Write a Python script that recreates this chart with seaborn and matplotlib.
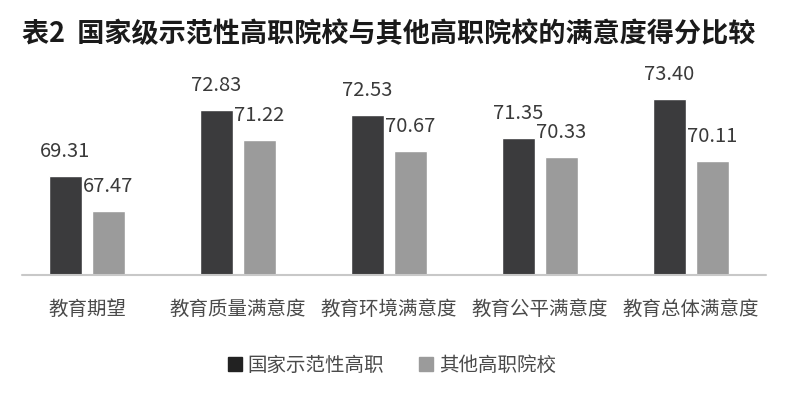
import numpy as np
import pandas as pd
import matplotlib.pyplot as plt
import seaborn as sns
from matplotlib.patches import Patch

categories = ['教育期望', '教育质量满意度', '教育环境满意度', '教育公平满意度', '教育总体满意度']
series_names = ['国家示范性高职', '其他高职院校']
national = [69.31, 72.83, 72.53, 71.35, 73.40]
others = [67.47, 71.22, 70.67, 70.33, 70.11]

df = pd.DataFrame({
    'category': categories * 2,
    'score': national + others,
    'type': [series_names[0]] * 5 + [series_names[1]] * 5,
})

sns.set_style("white")
plt.rcParams['font.family'] = ['Noto Sans CJK SC', 'DejaVu Sans']

colors = {series_names[0]: '#3b3b3d', series_names[1]: '#9b9b9b'}

fig = plt.figure(figsize=(8, 3.95), dpi=100)
ax = fig.add_axes([0.0144, 0.3038, 0.9437, 0.5443])

sns.barplot(data=df, x='category', y='score', hue='type', palette=colors,
            width=0.57, gap=0.23, saturation=1, legend=False, ax=ax)

for cont in ax.containers:
    ax.bar_label(cont, fmt='%.2f', padding=10, fontsize=14.5, color='#3a3a3a')

ax.set_ylim(64.1, 75.45)
ax.set_xlim(-0.5, 4.5)
ax.axhline(64.1, xmin=(22 - 11.5) / 755, xmax=1.0, color='#c8c8c8', lw=1.5, clip_on=False)

for s in ax.spines.values():
    s.set_visible(False)
ax.set_yticks([])
ax.tick_params(axis='x', length=0, pad=17, labelsize=14, labelcolor='#4a4a4a')
ax.set_xlabel('')
ax.set_ylabel('')

fig.text(22 / 800, 1 - 34.5 / 395, '表2  国家级示范性高职院校与其他高职院校的满意度得分比较',
         fontsize=19.5, fontweight='bold', color='#1a1a1a', va='center', ha='left')

handles = [Patch(color='#222222'), Patch(color='#9b9b9b')]
fig.legend(handles, series_names, loc='center', bbox_to_anchor=(0.49, 1 - 365 / 395),
           ncol=2, frameon=False, fontsize=14, handlelength=0.7, handleheight=0.7,
           handletextpad=0.3, columnspacing=1.8, labelcolor='#4a4a4a')

fig.savefig('out.png', dpi=100)
